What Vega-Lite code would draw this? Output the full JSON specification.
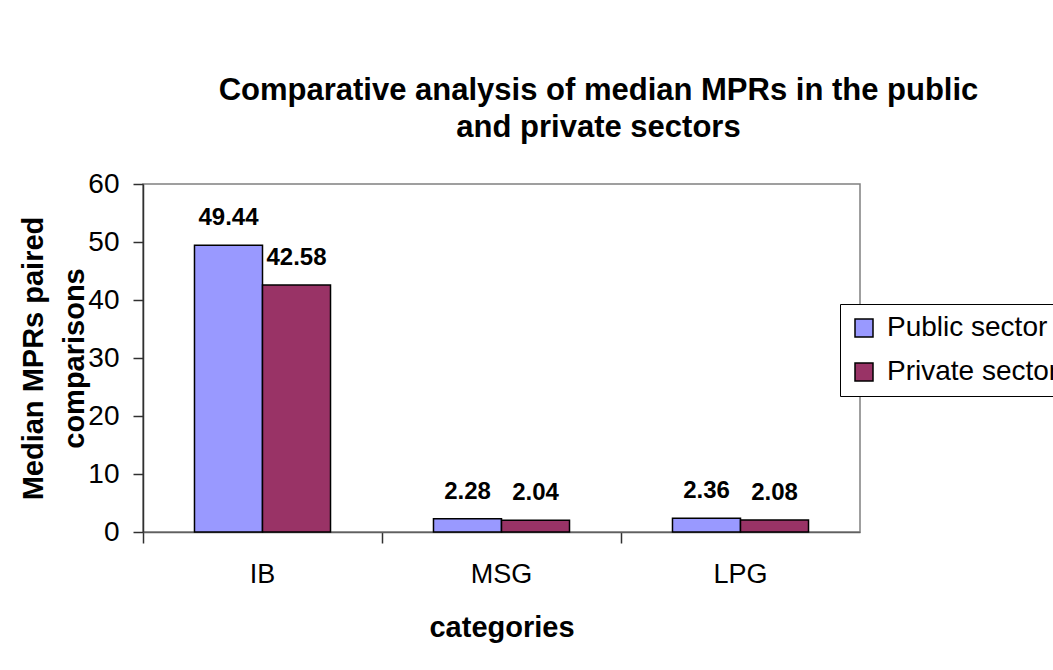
{
  "$schema": "https://vega.github.io/schema/vega-lite/v6.json",
  "width": 717,
  "height": 348,
  "autosize": {"type": "none"},
  "padding": {"left": 143, "top": 184, "right": 193, "bottom": 138},
  "background": "white",
  "config": {
    "font": "Liberation Sans",
    "view": {"stroke": "#808080", "strokeWidth": 1.5}
  },
  "title": {
    "text": ["Comparative analysis of median MPRs in the public", "and private sectors"],
    "font": "Liberation Sans",
    "fontSize": 31,
    "fontWeight": "bold",
    "color": "black",
    "anchor": "middle",
    "frame": "group",
    "dx": 97,
    "lineHeight": 37,
    "offset": 26
  },
  "data": {
    "values": [
      {"category": "IB", "sector": "Public sector", "value": 49.44},
      {"category": "IB", "sector": "Private sector", "value": 42.58},
      {"category": "MSG", "sector": "Public sector", "value": 2.28},
      {"category": "MSG", "sector": "Private sector", "value": 2.04},
      {"category": "LPG", "sector": "Public sector", "value": 2.36},
      {"category": "LPG", "sector": "Private sector", "value": 2.08}
    ]
  },
  "encoding": {
    "x": {
      "field": "category",
      "type": "nominal",
      "sort": ["IB", "MSG", "LPG"],
      "scale": {"paddingInner": 0, "paddingOuter": 0},
      "axis": {
        "title": "categories",
        "titleFontSize": 29,
        "titleFontWeight": "bold",
        "titleColor": "black",
        "titlePadding": 26,
        "labelAngle": 0,
        "labelFontSize": 27,
        "labelColor": "black",
        "labelPadding": 18,
        "tickSize": 11,
        "tickColor": "#303030",
        "tickWidth": 1.5,
        "bandPosition": 0,
        "domainColor": "#606060",
        "domainWidth": 1.5
      }
    },
    "xOffset": {
      "field": "sector",
      "type": "nominal",
      "sort": ["Public sector", "Private sector"],
      "scale": {"paddingInner": 0, "paddingOuter": 0.757}
    },
    "y": {
      "field": "value",
      "type": "quantitative",
      "scale": {"domain": [0, 60]},
      "axis": {
        "values": [0, 10, 20, 30, 40, 50, 60],
        "grid": false,
        "title": ["Median MPRs paired", "comparisons"],
        "titleFontSize": 29,
        "titleFontWeight": "bold",
        "titleColor": "black",
        "titleLineHeight": 41,
        "titlePadding": -2,
        "labelFontSize": 28,
        "labelColor": "black",
        "labelPadding": 14,
        "tickSize": 10,
        "tickColor": "#303030",
        "tickWidth": 1.5,
        "domainColor": "#303030",
        "domainWidth": 1.5
      }
    }
  },
  "layer": [
    {
      "mark": {"type": "bar", "stroke": "black", "strokeWidth": 1.5},
      "encoding": {
        "color": {
          "field": "sector",
          "type": "nominal",
          "sort": ["Public sector", "Private sector"],
          "scale": {"domain": ["Public sector", "Private sector"], "range": ["#9999FF", "#993366"]},
          "legend": {
            "title": null,
            "orient": "none",
            "legendX": 697,
            "legendY": 120,
            "labelFontSize": 28,
            "labelColor": "black",
            "labelLimit": 400,
            "symbolType": "square",
            "symbolSize": 324,
            "symbolStrokeColor": "black",
            "symbolStrokeWidth": 1.5,
            "rowPadding": 16,
            "padding": 10,
            "strokeColor": "black",
            "fillColor": "white",
            "labelOffset": 9
          }
        }
      }
    },
    {
      "mark": {"type": "text", "fontSize": 24, "fontWeight": "bold", "baseline": "alphabetic", "dy": -20, "color": "black"},
      "encoding": {
        "text": {"field": "value", "type": "quantitative", "format": ".2f"}
      }
    }
  ]
}
